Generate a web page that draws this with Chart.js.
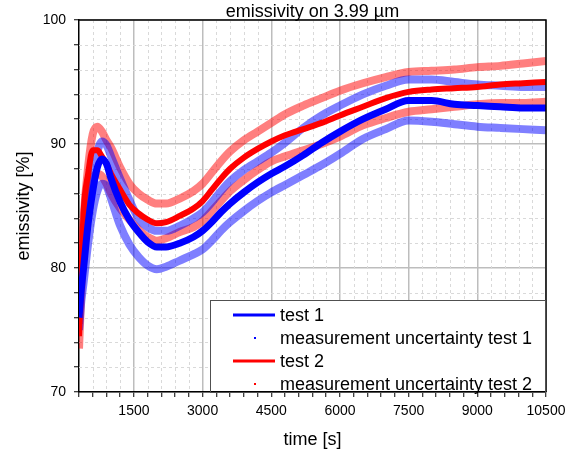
<!DOCTYPE html>
<html>
<head>
<meta charset="utf-8">
<script src="https://cdn.jsdelivr.net/npm/chart.js@4/dist/chart.umd.min.js"></script>
<style>
  html, body { margin: 0; padding: 0; background: #fff; }
  canvas { display: block; }
</style>
</head>
<body>
<canvas id="emChart" width="573" height="452"></canvas>
<script>
// time points [s]
var times = [300, 350, 400, 500, 600, 700, 800, 900, 1000, 1200, 1400, 1600, 1800, 2000, 2200, 2500, 2800, 3000, 3200, 3400, 3600, 3900, 4200, 4500, 4800, 5200, 5600, 6000, 6500, 7000, 7500, 8000, 8500, 9000, 9500, 10000, 10500];

// test 1 (blue)
var test1 = [76.0, 78.3, 80.0, 83.6, 86.2, 88.1, 88.8, 88.4, 87.2, 85.3, 83.9, 82.9, 82.1, 81.7, 81.7, 82.0, 82.5, 83.0, 83.7, 84.5, 85.2, 86.1, 86.9, 87.6, 88.2, 89.1, 90.1, 91.0, 92.0, 92.8, 93.5, 93.5, 93.2, 93.1, 93.0, 92.9, 92.9];
var test1Upper = [77.0, 79.3, 81.5, 85.2, 87.8, 89.4, 90.2, 89.9, 89.0, 87.2, 85.5, 84.0, 83.3, 83.0, 83.0, 83.4, 84.0, 84.5, 85.3, 86.2, 87.0, 87.9, 88.6, 89.3, 90.1, 91.3, 92.3, 93.1, 94.0, 94.7, 95.2, 95.2, 95.0, 94.8, 94.7, 94.6, 94.6];
var test1Lower = [75.0, 77.3, 78.8, 82.0, 84.6, 86.2, 86.8, 86.6, 85.6, 83.4, 81.9, 80.9, 80.2, 79.9, 80.1, 80.6, 81.1, 81.5, 82.2, 83.0, 83.7, 84.6, 85.4, 86.1, 86.7, 87.5, 88.3, 89.2, 90.4, 91.2, 91.9, 91.8, 91.6, 91.4, 91.3, 91.2, 91.1];

// test 2 (red)
var test2 = [74.5, 79.5, 84.5, 87.6, 89.5, 89.5, 89.0, 88.4, 87.6, 86.3, 85.1, 84.4, 83.9, 83.6, 83.7, 84.2, 84.8, 85.4, 86.3, 87.2, 88.0, 88.9, 89.6, 90.2, 90.7, 91.2, 91.7, 92.3, 93.0, 93.7, 94.2, 94.4, 94.5, 94.6, 94.8, 94.9, 95.0];
var test2Upper = [75.5, 80.5, 84.0, 88.2, 90.8, 91.4, 91.0, 90.3, 89.7, 88.1, 86.8, 86.0, 85.5, 85.2, 85.2, 85.6, 86.2, 86.8, 87.7, 88.6, 89.4, 90.3, 91.0, 91.7, 92.4, 93.1, 93.7, 94.3, 94.9, 95.4, 95.8, 95.9, 96.0, 96.2, 96.3, 96.5, 96.7];
var test2Lower = [73.5, 78.0, 82.0, 85.5, 87.2, 87.6, 87.4, 86.8, 86.0, 84.8, 83.9, 83.1, 82.5, 82.2, 82.4, 82.9, 83.3, 83.8, 84.6, 85.4, 86.2, 87.1, 87.9, 88.6, 89.0, 89.5, 90.0, 90.6, 91.5, 92.1, 92.6, 92.8, 93.0, 93.2, 93.3, 93.3, 93.4];

var chartTitle = 'emissivity on 3.99 µm';
var legendLabels = ['test 1', 'measurement uncertainty test 1', 'test 2', 'measurement uncertainty test 2'];

Chart.defaults.font.family = "'Liberation Sans', Arial, sans-serif";
Chart.defaults.color = '#000';

function pts(vals) {
  return vals.map(function (v, i) { return { x: times[i], y: v }; });
}

var BLUE = '#0000ff';
var RED = '#ff0000';

// dashed minor grid lines
var minorGrid = {
  id: 'minorGrid',
  beforeDatasetsDraw: function (chart) {
    var ctx = chart.ctx, a = chart.chartArea;
    var xs = chart.scales.x, ys = chart.scales.y;
    ctx.save();
    ctx.strokeStyle = '#d9d9d9';
    ctx.lineWidth = 1;
    ctx.setLineDash([3, 3]);
    xs.ticks.forEach(function (t) {
      if (t.value % 1500 === 0 || t.value === 300) return;
      var px = Math.round(xs.getPixelForValue(t.value)) + 0.5;
      ctx.beginPath(); ctx.moveTo(px, a.top); ctx.lineTo(px, a.bottom); ctx.stroke();
    });
    ys.ticks.forEach(function (t) {
      if (t.value % 10 === 0) return;
      var py = Math.round(ys.getPixelForValue(t.value)) + 0.5;
      ctx.beginPath(); ctx.moveTo(a.left, py); ctx.lineTo(a.right, py); ctx.stroke();
    });
    ctx.restore();
  }
};

// title over the plot, top/right frame and the boxed legend
var frameAndLegend = {
  id: 'frameAndLegend',
  afterDraw: function (chart) {
    var ctx = chart.ctx, a = chart.chartArea;
    ctx.save();
    ctx.font = "18px 'Liberation Sans', Arial, sans-serif";
    ctx.fillStyle = '#000';
    ctx.textAlign = 'center';
    ctx.textBaseline = 'alphabetic';
    ctx.fillText(chartTitle, (a.left + a.right) / 2, 17);

    ctx.strokeStyle = '#000';
    ctx.lineWidth = 1.5;
    ctx.beginPath();
    ctx.moveTo(a.left, a.top); ctx.lineTo(a.right, a.top); ctx.lineTo(a.right, a.bottom);
    ctx.stroke();

    var bx = 210, by = 300;
    ctx.fillStyle = '#fff';
    ctx.fillRect(bx, by, a.right - bx - 1, a.bottom - by - 1);
    ctx.strokeStyle = '#505050';
    ctx.lineWidth = 1;
    ctx.strokeRect(bx + 0.5, by + 0.5, a.right - bx - 1, a.bottom - by);

    var rows = [315, 338, 361, 384];
    var cols = [BLUE, BLUE, RED, RED];
    ctx.textBaseline = 'middle';
    ctx.textAlign = 'left';
    legendLabels.forEach(function (lab, i) {
      ctx.strokeStyle = cols[i];
      ctx.fillStyle = cols[i];
      if (i % 2 === 0) {
        ctx.lineWidth = 3;
        ctx.beginPath(); ctx.moveTo(233, rows[i]); ctx.lineTo(275, rows[i]); ctx.stroke();
      } else {
        ctx.fillRect(254, rows[i] - 1, 2, 2);
      }
      ctx.fillStyle = '#000';
      ctx.fillText(lab, 280, rows[i] + 1);
    });
    ctx.restore();
  }
};

var ctx = document.getElementById('emChart').getContext('2d');
var emChart = new Chart(ctx, {
  type: 'line',
  data: {
    datasets: [
      { label: legendLabels[0], data: pts(test1), borderColor: BLUE, borderWidth: 7 },
      { label: legendLabels[2], data: pts(test2), borderColor: RED, borderWidth: 6 },
      { label: legendLabels[1], data: pts(test1Upper), borderColor: 'rgba(0,0,255,0.5)', borderWidth: 8 },
      { label: legendLabels[1], data: pts(test1Lower), borderColor: 'rgba(0,0,255,0.5)', borderWidth: 8 },
      { label: legendLabels[3], data: pts(test2Upper), borderColor: 'rgba(255,0,0,0.5)', borderWidth: 8 },
      { label: legendLabels[3], data: pts(test2Lower), borderColor: 'rgba(255,0,0,0.5)', borderWidth: 8 }
    ]
  },
  options: {
    responsive: false,
    animation: false,
    layout: { padding: { top: 20, right: 27 } },
    elements: {
      point: { radius: 0 },
      line: { cubicInterpolationMode: 'monotone', fill: false }
    },
    plugins: {
      legend: { display: false },
      tooltip: { enabled: false },
      title: { display: false }
    },
    scales: {
      x: {
        type: 'linear',
        min: 300,
        max: 10500,
        afterFit: function (s) { s.height = 60; },
        border: { color: '#000', width: 1.5 },
        grid: {
          color: function (c) { return c.tick && c.tick.value % 1500 === 0 ? '#bdbdbd' : 'rgba(0,0,0,0)'; },
          lineWidth: 1.5,
          tickColor: '#000',
          tickLength: 5,
          tickWidth: 1
        },
        ticks: {
          stepSize: 300,
          maxTicksLimit: 100,
          autoSkip: false,
          maxRotation: 0,
          padding: 6,
          font: { size: 14 },
          callback: function (v) { return v % 1500 === 0 ? String(v) : ''; }
        },
        title: { display: true, text: 'time [s]', font: { size: 18 }, padding: { top: 0, bottom: 1 } }
      },
      y: {
        min: 70,
        max: 100,
        afterFit: function (s) { s.width = 79; },
        border: { color: '#000', width: 1.5 },
        grid: {
          color: function (c) { return c.tick && c.tick.value % 10 === 0 ? '#bdbdbd' : 'rgba(0,0,0,0)'; },
          lineWidth: 1.5,
          tickColor: '#000',
          tickLength: 5,
          tickWidth: 1
        },
        ticks: {
          stepSize: 2,
          maxTicksLimit: 100,
          autoSkip: false,
          padding: 8,
          font: { size: 14 },
          callback: function (v) { return v % 10 === 0 ? String(v) : ''; }
        },
        title: { display: true, text: 'emissivity [%]', font: { size: 18 }, padding: { top: 13, bottom: 0 } }
      }
    }
  },
  plugins: [minorGrid, frameAndLegend]
});
</script>
</body>
</html>
